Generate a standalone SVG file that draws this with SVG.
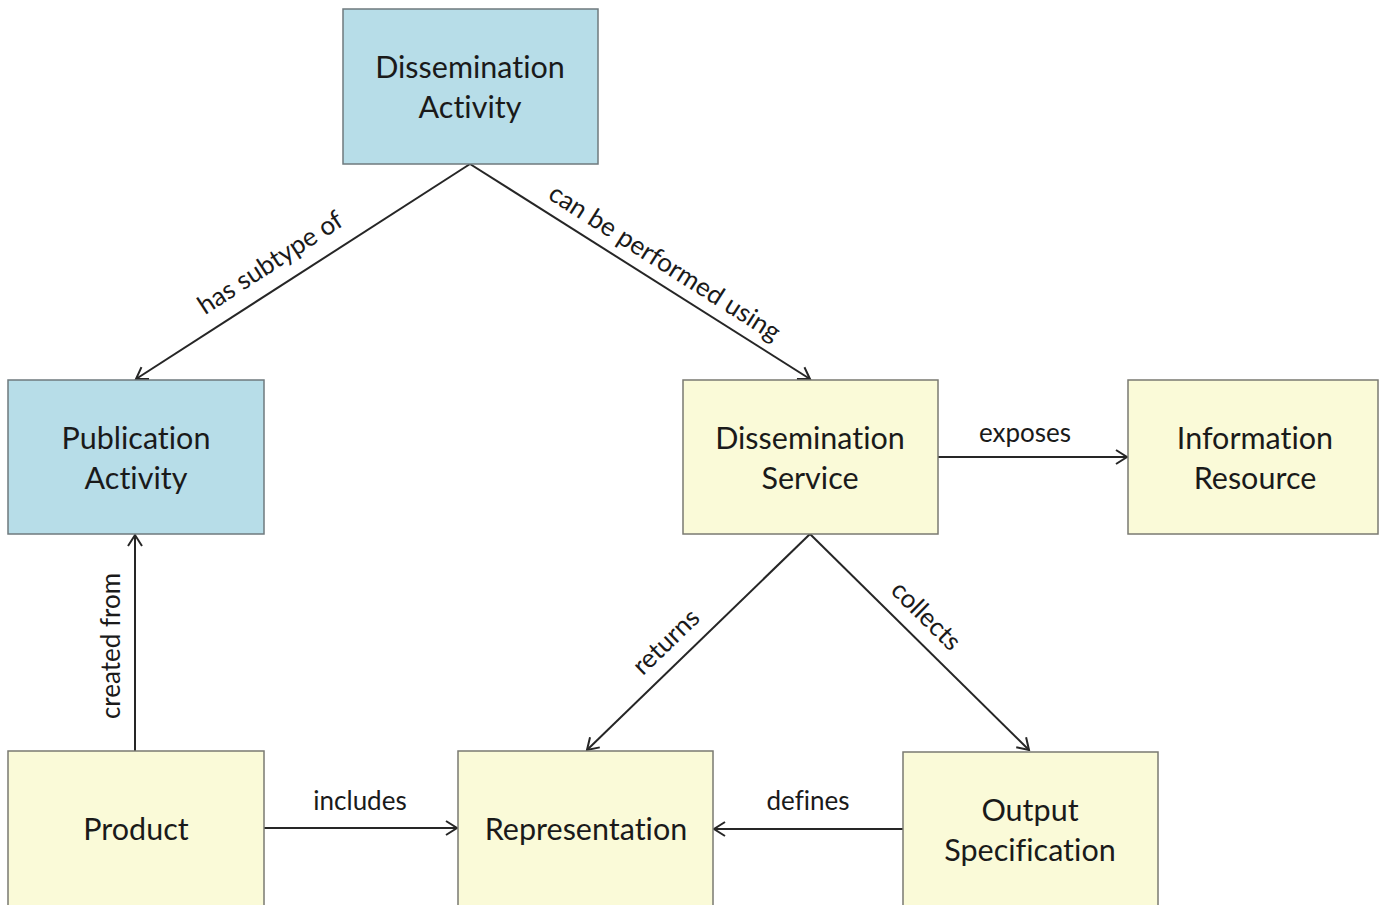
<svg xmlns="http://www.w3.org/2000/svg" width="1380" height="905" viewBox="0 0 1380 905">
<defs>
<style>
.blue{fill:#b7dde8;stroke:#6f7a7e;stroke-width:1.5}
.yel{fill:#fafad8;stroke:#7a7a72;stroke-width:1.5}
.nt{font-family:Lato,"Open Sans",sans-serif;font-size:30.5px;fill:#1a1a1a;text-anchor:middle;font-variant-ligatures:none}
.lt{font-family:Lato,"Open Sans",sans-serif;font-size:26px;fill:#1a1a1a;text-anchor:middle;font-variant-ligatures:none}
.edge{stroke:#262626;stroke-width:2;fill:none;marker-end:url(#arr)}
</style>
<marker id="arr" viewBox="0 0 20 20" refX="14" refY="10" markerWidth="20" markerHeight="20" markerUnits="userSpaceOnUse" orient="auto">
<path d="M3,3 L14,10 L3,17" fill="none" stroke="#262626" stroke-width="2"/>
</marker>
</defs>
<rect width="1380" height="905" fill="#ffffff"/>
<g id="connectors">
<line class="edge" x1="470" y1="164" x2="136" y2="379"/>
<line class="edge" x1="470" y1="164" x2="810" y2="379"/>
<line class="edge" x1="938" y1="457" x2="1127" y2="457"/>
<line class="edge" x1="810" y1="534" x2="587" y2="750"/>
<line class="edge" x1="810" y1="534" x2="1029" y2="750"/>
<line class="edge" x1="135" y1="751" x2="135" y2="535"/>
<line class="edge" x1="264" y1="828" x2="457" y2="828"/>
<line class="edge" x1="903" y1="829" x2="714" y2="829"/>
<text class="lt" transform="translate(275,270) rotate(-32.9)">has subtype of</text>
<text class="lt" transform="translate(660,270) rotate(32.4)">can be performed using</text>
<text class="lt" x="1025" y="442">exposes</text>
<text class="lt" transform="translate(672,648) rotate(-44)">returns</text>
<text class="lt" transform="translate(920,622) rotate(44.6)">collects</text>
<text class="lt" transform="translate(120,646) rotate(-90)">created from</text>
<text class="lt" x="360" y="810">includes</text>
<text class="lt" x="808" y="810">defines</text>
</g>
<g id="dissemination-activity">
<rect class="blue" x="343" y="9" width="255" height="155"/>
<text class="nt" x="470" y="78">Dissemination</text>
<text class="nt" x="470" y="118">Activity</text>
</g>
<g id="publication-activity">
<rect class="blue" x="8" y="380" width="256" height="154"/>
<text class="nt" x="136" y="449">Publication</text>
<text class="nt" x="136" y="489">Activity</text>
</g>
<g id="dissemination-service">
<rect class="yel" x="683" y="380" width="255" height="154"/>
<text class="nt" x="810" y="449">Dissemination</text>
<text class="nt" x="810" y="489">Service</text>
</g>
<g id="information-resource">
<rect class="yel" x="1128" y="380" width="250" height="154"/>
<text class="nt" x="1255" y="449">Information</text>
<text class="nt" x="1255" y="489">Resource</text>
</g>
<g id="product">
<rect class="yel" x="8" y="751" width="256" height="160"/>
<text class="nt" x="136" y="840">Product</text>
</g>
<g id="representation">
<rect class="yel" x="458" y="751" width="255" height="160"/>
<text class="nt" x="586" y="840">Representation</text>
</g>
<g id="output-specification">
<rect class="yel" x="903" y="752" width="255" height="160"/>
<text class="nt" x="1030" y="821">Output</text>
<text class="nt" x="1030" y="861">Specification</text>
</g>
</svg>
